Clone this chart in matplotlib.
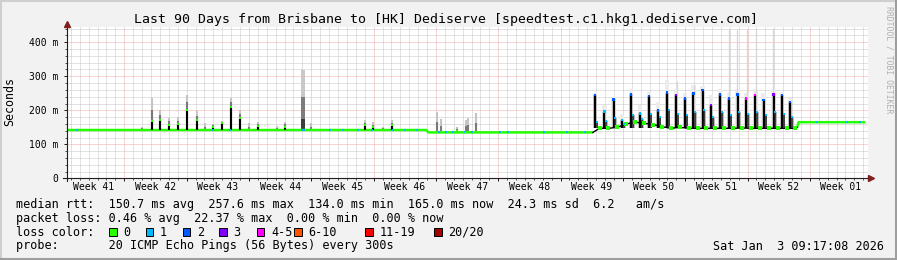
import matplotlib
matplotlib.use("Agg")
import matplotlib.pyplot as plt
from matplotlib.lines import Line2D
from matplotlib.patches import Rectangle

# ---- values (x = days since start of the 90 day window, y = ms)
week_labels = ["Week 41", "Week 42", "Week 43", "Week 44", "Week 45", "Week 46", "Week 47",
               "Week 48", "Week 49", "Week 50", "Week 51", "Week 52", "Week 01"]
week_starts = [6.47, 13.47, 20.47, 27.47, 34.47, 41.47, 48.47, 55.47, 62.47, 69.47, 76.47, 83.47]
y_ticks = [0, 100, 200, 300, 400]
y_tick_labels = ["0", "100 m", "200 m", "300 m", "400 m"]

# flat median sections (loss 0, green)
flat1_days = [0.0, 40.40, 40.62, 59.10]
flat1_ms = [142, 142, 135, 135]
flat2_days = [82.05, 82.20, 89.70]
flat2_ms = [150, 165, 165]

# isolated spikes in the first half: median peak and smoke top
spike_days = [8.42, 9.55, 10.48, 11.49, 12.54, 13.55, 14.60, 15.53, 16.47, 17.48, 18.46, 19.47,
              20.48, 21.52, 23.59, 24.52, 27.40, 33.50, 34.37, 35.56, 36.50, 41.63, 42.00,
              43.80, 44.85, 45.10, 45.94]
spike_base = [142, 142, 142, 142, 142, 142, 142, 142, 142, 142, 142, 142,
              142, 142, 142, 142, 142, 142, 142, 142, 142, 135, 135,
              135, 135, 135, 135]
spike_median = [142, 168, 171, 157, 159, 201, 171, 142, 152, 162, 211, 178,
                142, 155, 142, 152, 142, 157, 150, 142, 157, 135, 135,
                140, 135, 135, 135]
spike_smoke = [152, 235, 201, 178, 181, 245, 198, 162, 159, 168, 235, 201,
               162, 166, 153, 166, 162, 171, 166, 152, 171, 196, 174,
               150, 171, 176, 191]

# the big smoke column in week 44
big_day = 26.55
big_base = 142
big_dark = 175
big_mid = 240
big_top = 318

# loss = 1 bits on the flat line
loss1_days = [1.19, 16.47, 18.34, 26.40, 26.70, 29.57, 31.07, 32.72, 34.29, 36.68, 38.00, 39.31,
              41.85, 42.60, 43.42, 44.74, 45.49, 48.67, 49.60, 53.60, 56.16, 58.22,
              84.24, 87.60, 89.10]
loss1_ms = [142, 142, 142, 142, 142, 142, 142, 142, 142, 142, 142, 142,
            135, 135, 135, 135, 135, 135, 135, 135, 135, 135,
            165, 165, 165]

# daily oscillation from week 49 to week 52
peak_days = [59.36, 60.40, 61.42, 62.36, 63.40, 64.42, 65.43, 66.40, 67.42, 68.46, 69.47, 70.40,
             71.42, 72.39, 73.40, 74.38, 75.35, 76.33, 77.34, 78.27, 79.39, 80.34, 81.27]
peak_ms = [245, 196, 232, 172, 247, 191, 242, 200, 252, 245, 235, 250,
           259, 216, 247, 235, 247, 235, 245, 230, 247, 245, 225]
peak_loss = [2, 1, 2, 1, 2, 1, 2, 2, 2, 3, 2, 2,
             2, 3, 2, 2, 2, 4, 4, 2, 3, 2, 2]
peak_smoke = [252, 215, 240, 190, 262, 215, 255, 225, 290, 262, 250, 275,
              270, 245, 262, 250, 262, 250, 262, 250, 262, 255, 235]
shoulder_days = [59.55, 60.60, 61.62, 62.65, 63.62, 64.65, 65.62, 66.62, 67.62, 68.65, 69.65, 70.60,
                 71.62, 72.60, 73.60, 74.58, 75.55, 76.55, 77.55, 78.50, 79.58, 80.55, 81.47]
shoulder_ms = [165, 168, 178, 160, 185, 175, 190, 180, 200, 190, 185, 195,
               200, 180, 195, 185, 195, 190, 195, 185, 195, 190, 180]
trough_days = [59.10, 59.85, 60.85, 61.85, 62.85, 63.85, 64.85, 65.85, 66.85, 67.85, 68.85, 69.85,
               70.85, 71.85, 72.85, 73.85, 74.85, 75.85, 76.85, 77.85, 78.85, 79.85, 80.85, 81.85, 82.05]
trough_ms = [135, 147, 147, 150, 160, 165, 162, 158, 152, 147, 150, 147,
             147, 147, 147, 147, 147, 148, 147, 147, 147, 147, 147, 147, 150]
outlier_days = [68.50, 70.45, 74.43, 75.33, 76.38, 77.42, 79.37]
outlier_ms = [285, 275, 440, 440, 440, 440, 442]

loss_colors = ["#26ff00", "#00b8ff", "#0059ff", "#7e00ff", "#ff00ff", "#ff5500", "#ff0000", "#a00000"]
loss_names = ["0", "1", "2", "3", "4-5", "6-10", "11-19", "20/20"]

stats_line = "median rtt:  150.7 ms avg  257.6 ms max  134.0 ms min  165.0 ms now  24.3 ms sd  6.2   am/s"
loss_line = "packet loss: 0.46 % avg  22.37 % max  0.00 % min  0.00 % now"
probe_line = "probe:       20 ICMP Echo Pings (56 Bytes) every 300s"
date_text = "Sat Jan  3 09:17:08 2026"
title = "Last 90 Days from Brisbane to [HK] Dediserve [speedtest.c1.hkg1.dediserve.com]"

# ---- figure
W, H = 897, 260
MONO = "DejaVu Sans Mono"
fig = plt.figure(figsize=(W / 100, H / 100), dpi=100)
fig.patch.set_facecolor("#f2f2f2")


def fx(x):
    return x / W


def fy(y):
    return 1 - y / H


def ftext(x, y, s, **kw):
    kw.setdefault("family", MONO)
    kw.setdefault("va", "center")
    fig.text(fx(x), fy(y), s, **kw)


# frame shading
fig.add_artist(Line2D([fx(1), fx(1)], [fy(0), fy(H)], color="#cfcfcf", lw=1.5, transform=fig.transFigure))
fig.add_artist(Line2D([0, 1], [fy(1), fy(1)], color="#cfcfcf", lw=1.5, transform=fig.transFigure))
fig.add_artist(Line2D([fx(W - 1), fx(W - 1)], [fy(0), fy(H)], color="#9e9e9e", lw=1.5, transform=fig.transFigure))
fig.add_artist(Line2D([0, 1], [fy(H - 1), fy(H - 1)], color="#9e9e9e", lw=1.5, transform=fig.transFigure))

x0, x1, y0, y1 = 66.7, 868.0, 178.3, 27.0
ax = fig.add_axes([fx(x0), fy(y0), fx(x1) - fx(x0), fy(y1) - fy(y0)])
ax.set_facecolor("white")
ax.set_xlim(0, 90)
ax.set_ylim(0, 445)
for s in ax.spines.values():
    s.set_visible(False)

# grid
ax.set_yticks(y_ticks)
ax.set_yticklabels(y_tick_labels, family=MONO, fontsize=7)
ax.set_yticks(range(20, 445, 20), minor=True)
ax.set_xticks(week_starts)
ax.set_xticklabels([])
ax.set_xticks([0.47 + d for d in range(90)], minor=True)
ax.grid(which="minor", color="#c6c6c6", ls=(0, (1, 1)), lw=0.72)
ax.grid(which="major", color="#f0a8a8", ls=(0, (1, 1)), lw=0.72)
ax.set_axisbelow(True)
ax.tick_params(which="major", length=2.2, width=0.72, color="#1f1f1f", pad=4)
ax.tick_params(which="minor", length=1.4, width=0.72, color="#555555")
for i, lab in enumerate(week_labels):
    ax.text(week_starts[0] - 3.5 + 7 * i, -8.7 / (y0 - y1), lab, transform=ax.get_xaxis_transform(),
            ha="center", va="center", family=MONO, fontsize=7, clip_on=False)

# smoke for isolated spikes
ax.vlines(spike_days, spike_base, spike_smoke, color="#c4c4c4", lw=1.5)
ax.vlines(spike_days, spike_base, [(m + s) / 2 for m, s in zip(spike_median, spike_smoke)],
          color="#7a7a7a", lw=1.5)
ax.bar(big_day, big_top - big_base, bottom=big_base, width=0.45, color="#c8c8c8", lw=0)
ax.bar(big_day, big_mid - big_base, bottom=big_base, width=0.45, color="#7c7c7c", lw=0)
ax.bar(big_day, big_dark - big_base, bottom=big_base, width=0.45, color="#3c3c3c", lw=0)

# smoke for the daily oscillation
ax.vlines(outlier_days, [147] * len(outlier_days), outlier_ms, color="#d6d6d6", lw=0.9)
ax.bar(peak_days, [s - 147 for s in peak_smoke], bottom=147, width=0.5, color="#ececec", lw=0)
ax.bar(peak_days, [p - 147 for p in peak_ms], bottom=147, width=0.4, color="#d2d2d2", lw=0)
ax.bar(shoulder_days, [p - 147 for p in shoulder_ms], bottom=147, width=0.35, color="#b8b8b8", lw=0)

# median line
ax.plot(flat1_days, flat1_ms, color=loss_colors[0], lw=1.8, solid_capstyle="butt")
ax.plot(flat2_days, flat2_ms, color=loss_colors[0], lw=1.8, solid_capstyle="butt")
ax.plot(trough_days, trough_ms, color="black", lw=1.0)
ax.vlines(spike_days, spike_base, spike_median, color="black", lw=1.5)
ax.vlines(peak_days, [147] * len(peak_days), peak_ms, color="black", lw=1.6)
ax.vlines(shoulder_days, [147] * len(shoulder_days), shoulder_ms, color="#202020", lw=1.1)
ax.plot(loss1_days, loss1_ms, "s", color=loss_colors[1], ms=1.8, mew=0)
ax.plot(trough_days[1:-1], trough_ms[1:-1], "s", color=loss_colors[0], ms=2.2, mew=0)
ax.plot(spike_days, spike_median, "s", color=loss_colors[0], ms=1.5, mew=0)
ax.scatter(peak_days, peak_ms, s=3, marker="s", c=[loss_colors[c] for c in peak_loss], lw=0, zorder=5)
ax.plot(shoulder_days, shoulder_ms, "s", color=loss_colors[1], ms=1.5, mew=0)

# axes with arrows
fig.add_artist(Line2D([fx(x0), fx(x0)], [fy(181), fy(26)], color="#1f1f1f", lw=0.8, transform=fig.transFigure))
fig.add_artist(Line2D([fx(63), fx(870)], [fy(y0), fy(y0)], color="#1f1f1f", lw=0.8, transform=fig.transFigure))
fig.add_artist(Line2D([fx(x0)], [fy(24)], marker="^", ms=4, color="#801f1f", transform=fig.transFigure))
fig.add_artist(Line2D([fx(871)], [fy(y0)], marker=">", ms=4, color="#801f1f", transform=fig.transFigure))

# texts
ftext(446, 19, title, ha="center", fontsize=9.5)
ftext(10, 102, "Seconds", ha="center", rotation=90, fontsize=8.4)
ftext(889, 60, "RRDTOOL / TOBI OETIKER", ha="center", rotation=-90, fontsize=5.9, color="#b0b0b0")
ftext(16, 204.3, stats_line, fontsize=8.5)
ftext(16, 218.3, loss_line, fontsize=8.5)
ftext(16, 232.3, "loss color:", fontsize=8.5)
box_x = [109.0, 145.7, 182.7, 219.3, 256.7, 294.0, 365.3, 434.3]
for bx, col, name in zip(box_x, loss_colors, loss_names):
    fig.add_artist(Rectangle((fx(bx), fy(236)), 7.5 / W, 8 / H, transform=fig.transFigure,
                             facecolor=col, edgecolor="black", lw=0.7))
    ftext(bx + 14.3, 232.3, name, fontsize=8.5)
ftext(16, 246, probe_line, fontsize=8.5)
ftext(884, 246, date_text, ha="right", fontsize=8.5)

fig.savefig("out.png", dpi=100, facecolor=fig.get_facecolor())
